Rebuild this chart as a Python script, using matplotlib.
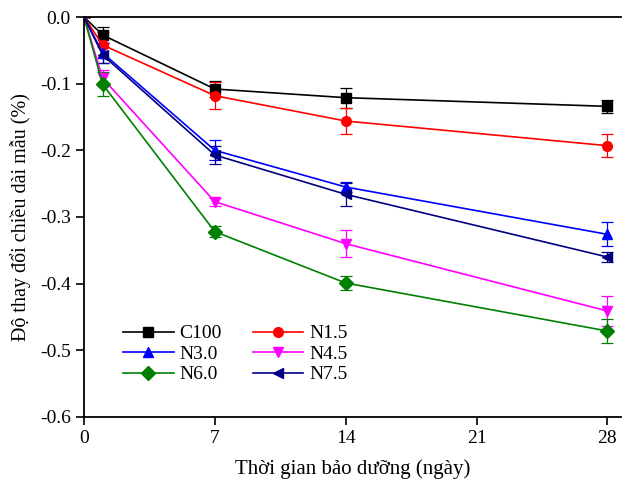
import matplotlib
matplotlib.use('Agg')
from matplotlib import pyplot as plt

plt.rcParams['font.family'] = ['Liberation Serif', 'DejaVu Serif']

days = [0, 1, 7, 14, 28]

c100 = [0, -0.027, -0.108, -0.121, -0.134]
n15 = [0, -0.042, -0.118, -0.156, -0.193]
n30 = [0, -0.054, -0.200, -0.255, -0.326]
n45 = [0, -0.092, -0.277, -0.340, -0.441]
n60 = [0, -0.101, -0.322, -0.399, -0.471]
n75 = [0, -0.057, -0.207, -0.266, -0.360]

errC100 = [0, 0.012, 0.012, 0.015, 0.010]
errN15 = [0, 0.020, 0.020, 0.020, 0.017]
errN30 = [0, 0.015, 0.015, 0.008, 0.018]
errN45 = [0, 0.012, 0.006, 0.020, 0.022]
errN60 = [0, 0.018, 0.008, 0.010, 0.018]
errN75 = [0, 0.012, 0.013, 0.017, 0.008]

labels = ['C100', 'N1.5', 'N3.0', 'N4.5', 'N6.0', 'N7.5']
xTicks = [0, 7, 14, 21, 28]
yTicks = [0.0, -0.1, -0.2, -0.3, -0.4, -0.5, -0.6]

fig = plt.figure(figsize=(6.22, 4.86), dpi=100)
ax = fig.add_axes([0.135, 0.142, 0.864, 0.823])

series = [c100, n15, n30, n45, n60, n75]
errors = [errC100, errN15, errN30, errN45, errN60, errN75]
colors = ['black', 'red', 'blue', 'magenta', 'green', 'navy']
markers = ['s', 'o', '^', 'v', 'D', '<']

lines = []
for vals, err, lab, col, mk in zip(series, errors, labels, colors, markers):
    cont = ax.errorbar(days, vals, yerr=err, color=col, marker=mk, markersize=7,
                       linewidth=1.2, elinewidth=0.9, capsize=4, capthick=0.9,
                       label=lab, markevery=[1, 2, 3, 4])
    lines.append(cont[0])

ax.set_xlim(0, 28.75)
ax.set_ylim(-0.6, 0.0)
ax.set_xticks(xTicks)
ax.set_yticks(yTicks)
ax.set_yticklabels(['0.0', '-0.1', '-0.2', '-0.3', '-0.4', '-0.5', '-0.6'])
ax.tick_params(direction='out', length=6, width=1.2, labelsize=14)
ax.spines['right'].set_visible(False)
for s in ['left', 'bottom', 'top']:
    ax.spines[s].set_linewidth(1.3)

ax.set_xlabel('Thời gian bảo dưỡng (ngày)', fontsize=15, labelpad=9)
ax.set_ylabel('Độ thay đổi chiều dài mẫu (%)', fontsize=14.5, labelpad=6)

# legend filled row by row like the original
order = [0, 2, 4, 1, 3, 5]
ax.legend([lines[i] for i in order], [labels[i] for i in order],
          ncol=2, loc='lower left', bbox_to_anchor=(0.04, 0.04), frameon=False,
          fontsize=14, handlelength=2.6, columnspacing=1.6, labelspacing=0.15,
          handletextpad=0.3)

plt.savefig('out.png', dpi=100)
